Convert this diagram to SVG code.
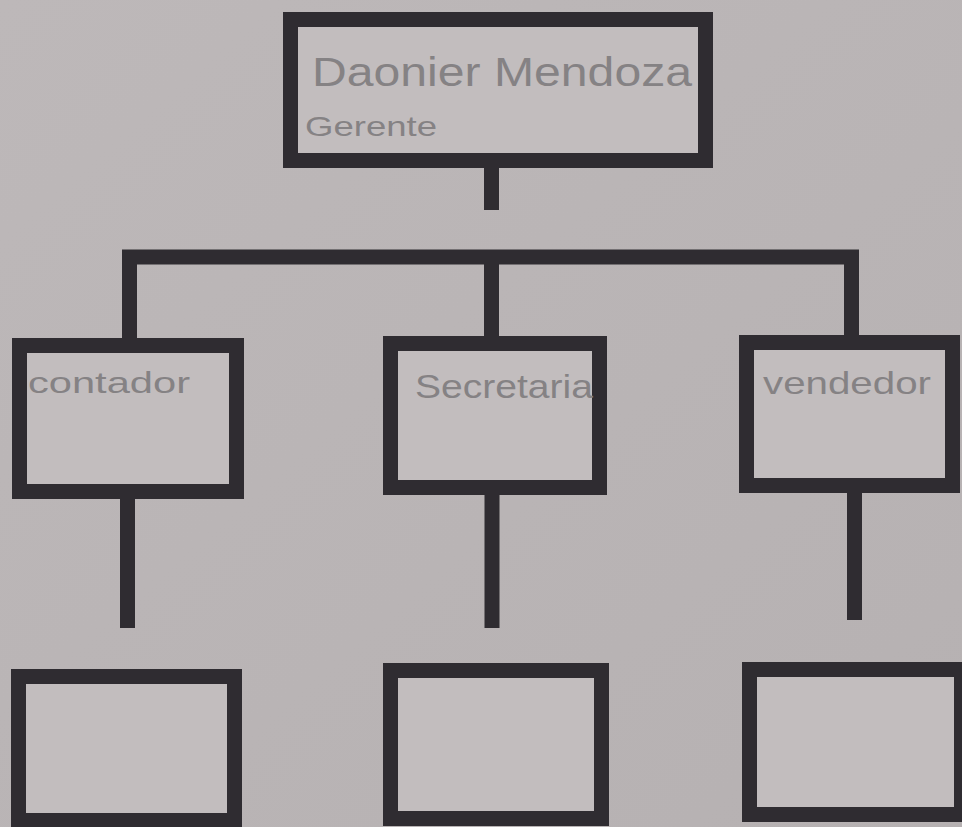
<svg xmlns="http://www.w3.org/2000/svg" width="962" height="827" viewBox="0 0 962 827">
<defs>
<style>
.box{fill:#c2bdbe;stroke:#2f2c31;stroke-width:15}
.ln{stroke:#2f2c31;stroke-width:15;fill:none;stroke-linecap:butt;stroke-linejoin:miter}
.hw{font-family:"Liberation Sans","DejaVu Sans",sans-serif;fill:#858284}
</style>
<linearGradient id="bg" x1="0" y1="0" x2="1" y2="1">
<stop offset="0" stop-color="#bdb8b9"/>
<stop offset="1" stop-color="#b6b1b2"/>
</linearGradient>
</defs>
<rect x="0" y="0" width="962" height="827" fill="url(#bg)"/>
<g id="connectors">
<path class="ln" d="M491.5 168 V210"/>
<path class="ln" d="M129.5 338 V257 H851.5 V335"/>
<path class="ln" d="M491.5 257 V336"/>
<path class="ln" d="M127.5 499 V628"/>
<path class="ln" d="M492 495 V628"/>
<path class="ln" d="M854.5 493 V620"/>
</g>
<g id="node-gerente">
<rect class="box" x="290.5" y="19.5" width="415" height="141"/>
<text class="hw" x="312" y="86" font-size="40" textLength="380" lengthAdjust="spacingAndGlyphs">Daonier Mendoza</text>
<text class="hw" x="305" y="136" font-size="28" textLength="132" lengthAdjust="spacingAndGlyphs">Gerente</text>
</g>
<g id="node-contador">
<rect class="box" x="19.5" y="345.5" width="217" height="146"/>
<text class="hw" x="28" y="393" font-size="30" textLength="162" lengthAdjust="spacingAndGlyphs">contador</text>
</g>
<g id="node-secretaria">
<rect class="box" x="390.5" y="343.5" width="209" height="144"/>
<text class="hw" x="415" y="398" font-size="34" textLength="178" lengthAdjust="spacingAndGlyphs">Secretaria</text>
</g>
<g id="node-vendedor">
<rect class="box" x="746.5" y="342.5" width="206" height="143"/>
<text class="hw" x="763" y="394" font-size="32" textLength="168" lengthAdjust="spacingAndGlyphs">vendedor</text>
</g>
<g id="node-empty-1">
<rect class="box" x="18.5" y="676.5" width="216" height="144"/>
</g>
<g id="node-empty-2">
<rect class="box" x="390.5" y="670.5" width="211" height="148"/>
</g>
<g id="node-empty-3">
<rect class="box" x="749.5" y="669.5" width="212" height="145"/>
</g>
</svg>
